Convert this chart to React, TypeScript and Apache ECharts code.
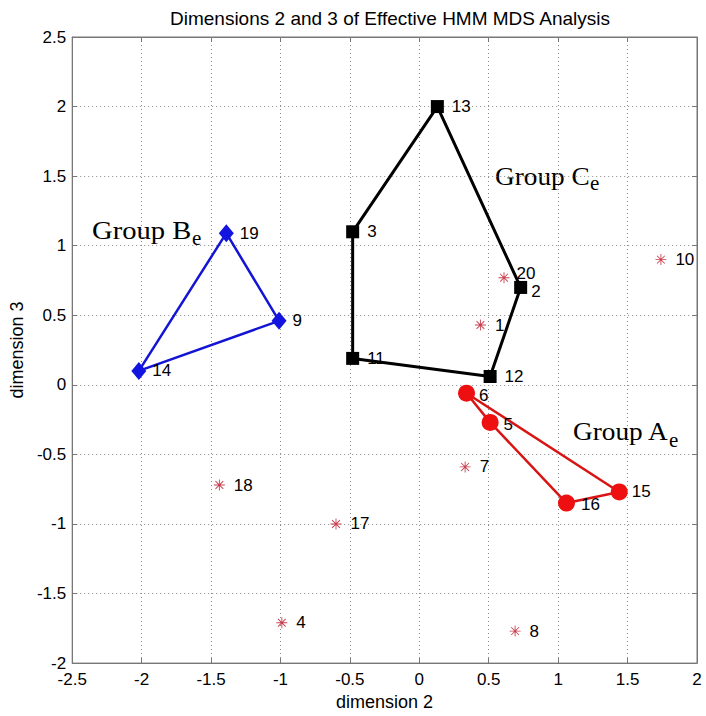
import React, { useEffect, useRef } from "react";
import * as echarts from "echarts";

const titleText = "Dimensions 2 and 3 of Effective HMM MDS Analysis";
const xName = "dimension 2";
const yName = "dimension 3";

// Group A (red circles), polygon order
const groupAIds = ["6", "5", "16", "15"];
const groupAX = [0.34, 0.51, 1.06, 1.44];
const groupAY = [-0.06, -0.27, -0.85, -0.77];

// Group B (blue diamonds)
const groupBIds = ["19", "9", "14"];
const groupBX = [-1.39, -1.01, -2.02];
const groupBY = [1.09, 0.46, 0.1];

// Group C (black squares)
const groupCIds = ["13", "3", "11", "12", "2"];
const groupCX = [0.13, -0.48, -0.48, 0.51, 0.73];
const groupCY = [2.0, 1.1, 0.19, 0.06, 0.7];

// Ungrouped (red asterisks)
const otherIds = ["20", "1", "10", "7", "18", "17", "4", "8"];
const otherX = [0.61, 0.44, 1.74, 0.33, -1.44, -0.6, -0.99, 0.69];
const otherY = [0.77, 0.43, 0.9, -0.59, -0.72, -1.0, -1.71, -1.77];

const groupNames = ["Group B", "Group C", "Group A"];

// label offset styling (not data)
const labelOffsets: Record<string, [number, number]> = {
  "20": [-2, -4],
  "2": [-4, 4],
  "6": [-1, 2],
  "5": [0, 2],
  "15": [-1, 0],
  "16": [1, 1],
};

const asterisk =
  "path://M9.2 0H10.8V20H9.2Z M0 9.2H20V10.8H0Z M3.47 2.33L17.67 16.53L16.53 17.67L2.33 3.47Z M16.53 2.33L17.67 3.47L3.47 17.67L2.33 16.53Z";

const pts = (ids: string[], xs: number[], ys: number[]) =>
  ids.map((id, i) => ({
    value: [xs[i], ys[i]],
    name: id,
    label: labelOffsets[id] ? { offset: labelOffsets[id] } : undefined,
  }));

const closed = (xs: number[], ys: number[]) => {
  const d = xs.map((x, i) => [x, ys[i]]);
  d.push([xs[0], ys[0]]);
  return d;
};

export default function App() {
  const ref = useRef<HTMLDivElement>(null);
  useEffect(() => {
    if (!ref.current) return;
    const chart = echarts.init(ref.current, null, { renderer: "svg" });
    const font = "Liberation Sans, Arial, sans-serif";
    const serif = "Liberation Serif, Times New Roman, serif";
    const mkLabel = (distance: number) => ({
      show: true,
      position: "right" as const,
      distance,
      formatter: "{b}",
      fontSize: 17,
      color: "#000",
      fontFamily: font,
    });
    const gridLine = { show: true, lineStyle: { color: "#8a8a8a", type: [1, 3] as any, width: 1 } };
    const axisCommon = {
      axisLine: { show: true, onZero: false, lineStyle: { color: "#777" } },
      axisTick: { show: true, inside: true, length: 5, lineStyle: { color: "#777" } },
    };
    const groupLabelPos = [
      { x: 92, y: 230.5, sx: 1.1, ex: 192, ey: 237.9 },
      { x: 495, y: 176.2, sx: 1.05, ex: 590, ey: 182.9 },
      { x: 573, y: 431.2, sx: 1.05, ex: 669, ey: 439.6 },
    ];
    const graphics: any[] = [];
    groupNames.forEach((g, i) => {
      const p = groupLabelPos[i];
      graphics.push({
        type: "text",
        x: p.x,
        y: p.y,
        scaleX: p.sx,
        style: { text: g, fontSize: 26, fontFamily: serif, fill: "#000", verticalAlign: "middle", align: "left" },
      });
      graphics.push({
        type: "text",
        x: p.ex,
        y: p.ey,
        style: { text: "e", fontSize: 21, fontFamily: serif, fill: "#000", verticalAlign: "middle", align: "left" },
      });
    });
    chart.setOption({
      animation: false,
      backgroundColor: "#fff",
      title: {
        text: titleText,
        left: 385,
        textAlign: "center",
        top: 4,
        textStyle: { fontSize: 19, fontWeight: "normal", color: "#000", fontFamily: font },
      },
      grid: { left: 72, right: 9, top: 37, bottom: 52, show: true, borderColor: "#777", borderWidth: 1 },
      xAxis: [
        {
          type: "value",
          min: -2.5,
          max: 2,
          interval: 0.5,
          name: xName,
          nameLocation: "middle",
          nameGap: 22,
          nameTextStyle: { fontSize: 18, color: "#000", fontFamily: font },
          ...axisCommon,
          axisLabel: { fontSize: 17, color: "#000", fontFamily: font, margin: 8 },
          splitLine: gridLine,
        },
        {
          type: "value",
          position: "top",
          min: -2.5,
          max: 2,
          interval: 0.5,
          ...axisCommon,
          axisLabel: { show: false },
          splitLine: { show: false },
        },
      ],
      yAxis: [
        {
          type: "value",
          min: -2,
          max: 2.5,
          interval: 0.5,
          name: yName,
          nameLocation: "middle",
          nameGap: 38,
          nameRotate: 90,
          nameTextStyle: { fontSize: 18, color: "#000", fontFamily: font },
          ...axisCommon,
          axisLabel: { fontSize: 17, color: "#000", fontFamily: font, margin: 6 },
          splitLine: gridLine,
        },
        {
          type: "value",
          position: "right",
          min: -2,
          max: 2.5,
          interval: 0.5,
          ...axisCommon,
          axisLabel: { show: false },
          splitLine: { show: false },
        },
      ],
      series: [
        {
          type: "line",
          data: closed(groupCX, groupCY),
          symbol: "none",
          lineStyle: { color: "#000", width: 3 },
          z: 2,
        },
        {
          type: "line",
          data: closed(groupBX, groupBY),
          symbol: "none",
          lineStyle: { color: "#1414d4", width: 2.5 },
          z: 2,
        },
        {
          type: "line",
          data: closed(groupAX, groupAY),
          symbol: "none",
          lineStyle: { color: "#d81515", width: 2.5 },
          z: 2,
        },
        {
          type: "scatter",
          data: pts(groupCIds, groupCX, groupCY),
          symbol: "rect",
          symbolSize: 13,
          itemStyle: { color: "#000", opacity: 1 },
          label: mkLabel(8),
          z: 3,
        },
        {
          type: "scatter",
          data: pts(groupBIds, groupBX, groupBY),
          symbol: "diamond",
          symbolSize: [15, 18],
          itemStyle: { color: "#1414e0", opacity: 1 },
          label: mkLabel(6),
          z: 3,
        },
        {
          type: "scatter",
          data: pts(groupAIds, groupAX, groupAY),
          symbol: "circle",
          symbolSize: 17,
          itemStyle: { color: "#ee1010", opacity: 1 },
          label: mkLabel(5),
          z: 3,
        },
        {
          type: "scatter",
          data: pts(otherIds, otherX, otherY),
          symbol: asterisk,
          symbolSize: 11,
          itemStyle: { color: "#c8404f", opacity: 1 },
          label: mkLabel(9),
          z: 3,
        },
      ],
      graphic: graphics,
    });
    return () => chart.dispose();
  }, []);
  return <div ref={ref} style={{ width: 706, height: 716, position: "absolute", left: 0, top: 0 }} />;
}
